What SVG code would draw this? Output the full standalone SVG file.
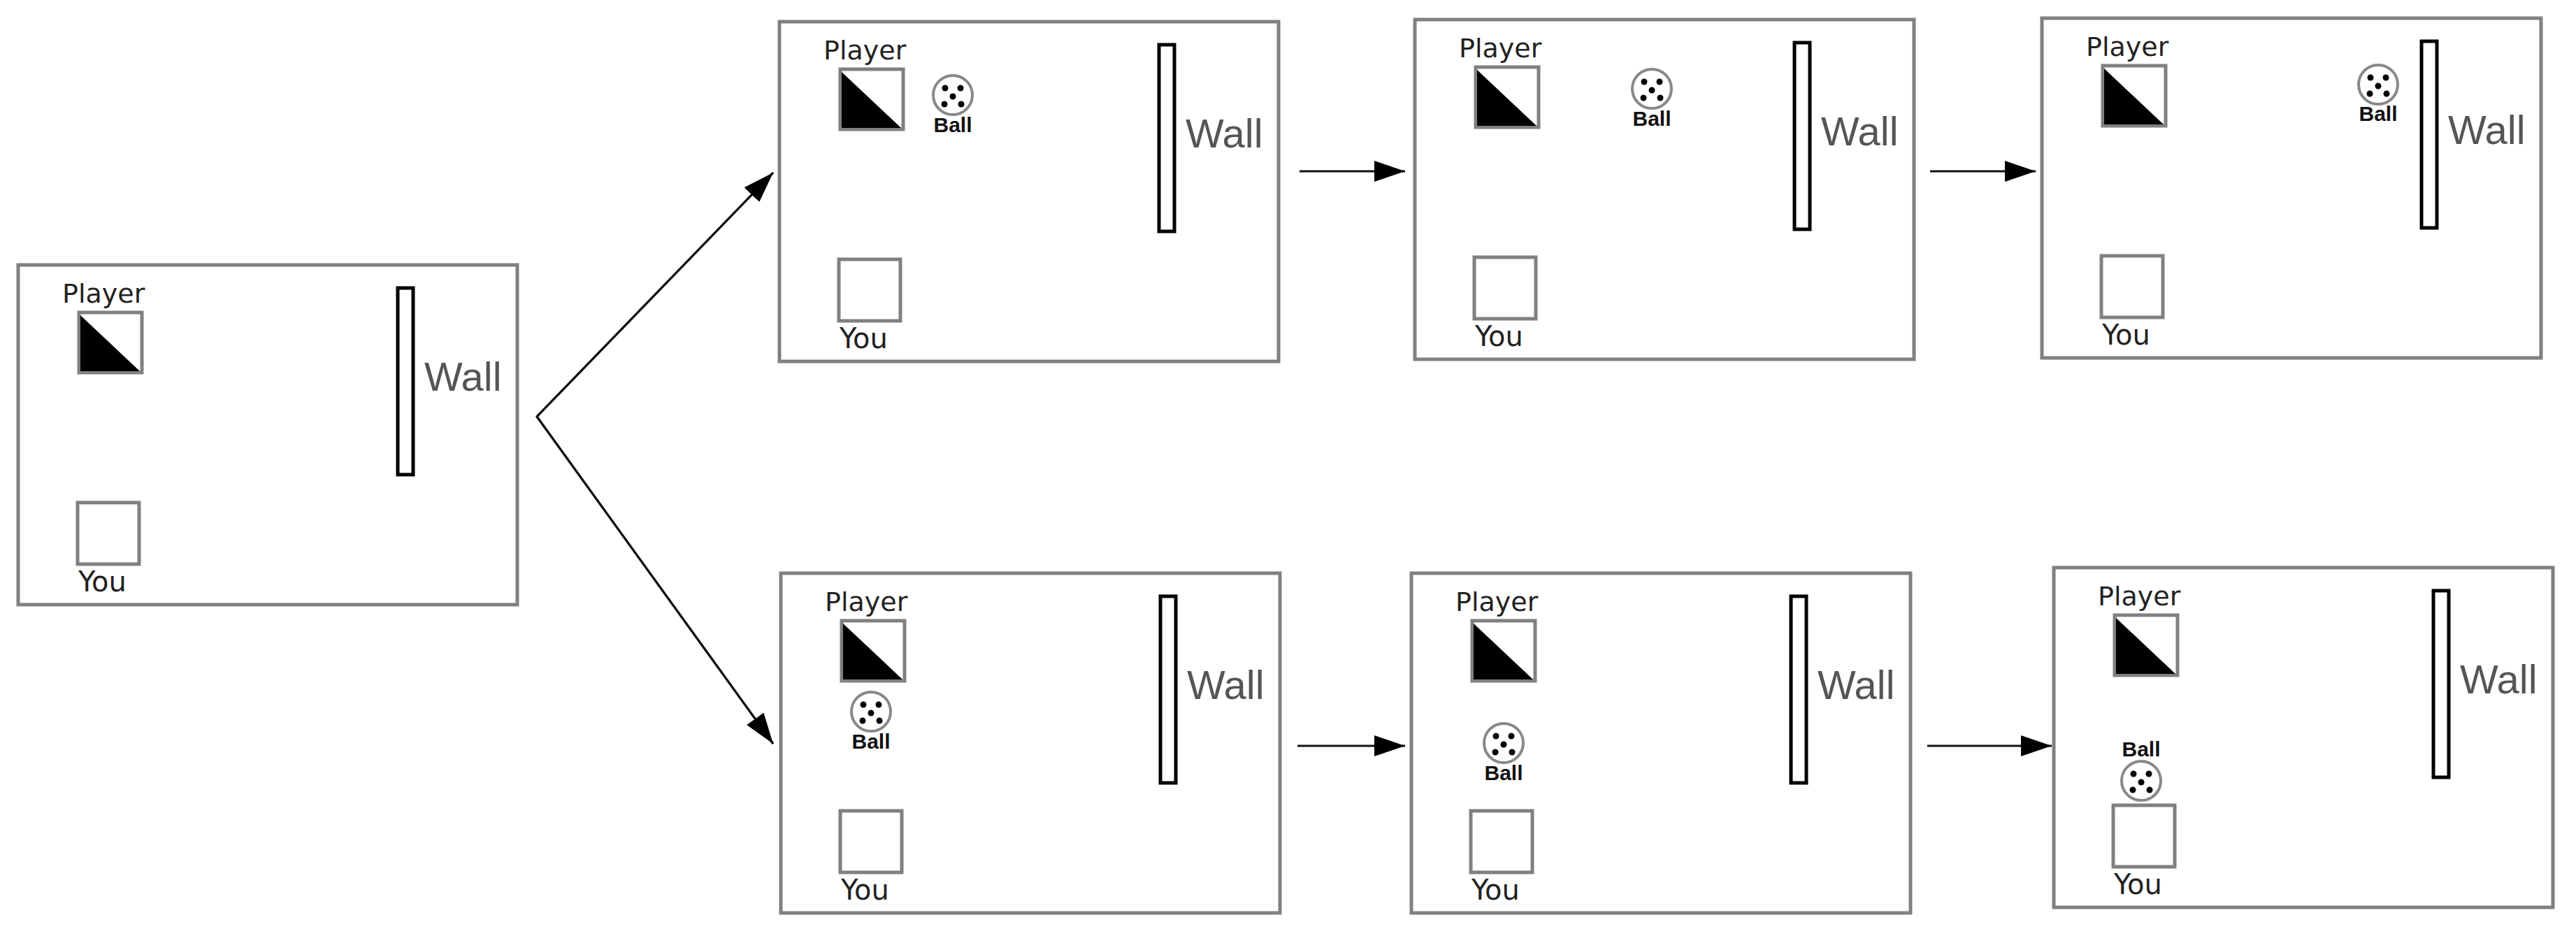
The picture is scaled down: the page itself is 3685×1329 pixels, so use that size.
<svg xmlns="http://www.w3.org/2000/svg" width="3685" height="1329" viewBox="0 0 3685 1329">
<style>
.frame{fill:#fff;stroke:#808080;stroke-width:5}
.sq{fill:#fff;stroke:#808080;stroke-width:5}
.wall{fill:#fff;stroke:#000;stroke-width:5}
.lbl{font-family:"DejaVu Sans",sans-serif;fill:#222}
.wt{font-family:"Liberation Sans",Arial,sans-serif;font-size:58px;fill:#555}
.bt{font-family:"Liberation Sans",Arial,sans-serif;font-size:30px;font-weight:bold;fill:#111;text-anchor:middle}
.conn{stroke:#111;stroke-width:3;fill:none}
</style>
<defs>
<marker id="ah" viewBox="0 0 14 10" refX="14" refY="5" markerWidth="14" markerHeight="10" markerUnits="userSpaceOnUse" orient="auto"><path d="M0,0 L14,5 L0,10 Z" fill="#000"/></marker>
<g id="scene">
<rect class="frame" x="0" y="0" width="714" height="486"/>
<text class="lbl" x="63" y="54" font-size="38">Player</text>
<rect class="sq" x="87" y="68" width="90" height="86"/>
<path d="M89,72 L174,152 L89,152 Z" fill="#000"/>
<rect class="wall" x="543" y="33" width="22" height="267"/>
<text class="wt" x="581" y="180">Wall</text>
<rect class="sq" x="85" y="340" width="88" height="88"/>
<text class="lbl" x="86" y="467" font-size="40">You</text>
</g>
<g id="ball">
<circle r="28" fill="#fff" stroke="#888" stroke-width="4"/>
<circle cx="-11" cy="-10" r="4.5" fill="#000"/><circle cx="11" cy="-10" r="4.5" fill="#000"/>
<circle cx="0" cy="2" r="4.5" fill="#000"/><circle cx="-12" cy="13" r="4.5" fill="#000"/><circle cx="12" cy="13" r="4.5" fill="#000"/>
</g>
<marker id="ah2" viewBox="0 0 44 30" refX="44" refY="15" markerWidth="44" markerHeight="30" markerUnits="userSpaceOnUse" orient="auto"><path d="M0,0 L44,15 L0,30 Z" fill="#000"/></marker>
</defs>
<g id="panel1" transform="translate(26,379)"><use href="#scene"/></g>
<g id="panel2" transform="translate(1115,31)"><use href="#scene"/><use href="#ball" x="248" y="105"/><text class="bt" x="248" y="158">Ball</text></g>
<g id="panel3" transform="translate(2024,28)"><use href="#scene"/><use href="#ball" x="339" y="99"/><text class="bt" x="339" y="152">Ball</text></g>
<g id="panel4" transform="translate(2921,26)"><use href="#scene"/><use href="#ball" x="481" y="95"/><text class="bt" x="481" y="147">Ball</text></g>
<g id="panel5" transform="translate(1117,820)"><use href="#scene"/><use href="#ball" x="129" y="198"/><text class="bt" x="129" y="251">Ball</text></g>
<g id="panel6" transform="translate(2019,820)"><use href="#scene"/><use href="#ball" x="132" y="243"/><text class="bt" x="132" y="296">Ball</text></g>
<g id="panel7" transform="translate(2938,812)"><use href="#scene"/><use href="#ball" x="125" y="305"/><text class="bt" x="125" y="270">Ball</text></g>
<g id="connectors">
<path class="conn" d="M1106,247 L768,596 L1106,1064" marker-start="url(#ah2r)"/>
<line class="conn" x1="768" y1="596" x2="1106" y2="247" marker-end="url(#ah2)"/>
<line class="conn" x1="768" y1="596" x2="1106" y2="1064" marker-end="url(#ah2)"/>
<line class="conn" x1="1859" y1="245" x2="2010" y2="245" marker-end="url(#ah2)"/>
<line class="conn" x1="2761" y1="245" x2="2912" y2="245" marker-end="url(#ah2)"/>
<line class="conn" x1="1856" y1="1067" x2="2010" y2="1067" marker-end="url(#ah2)"/>
<line class="conn" x1="2757" y1="1067" x2="2935" y2="1067" marker-end="url(#ah2)"/>
</g>
</svg>
